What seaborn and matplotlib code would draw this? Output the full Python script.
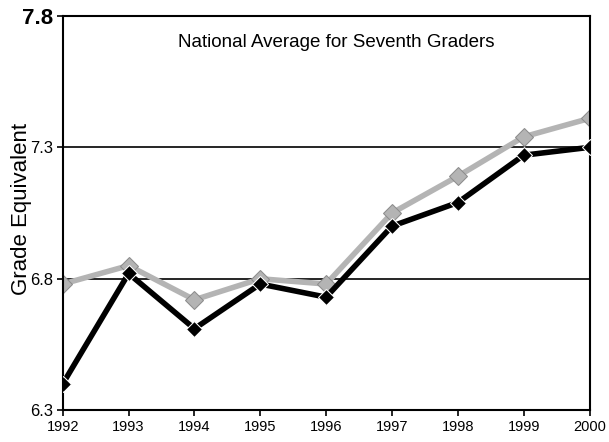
import matplotlib
matplotlib.use("Agg")
import matplotlib.pyplot as plt
import seaborn as sns
import pandas as pd

years = [1992, 1993, 1994, 1995, 1996, 1997, 1998, 1999, 2000]
local_scores = [6.40, 6.82, 6.61, 6.78, 6.73, 7.00, 7.09, 7.27, 7.30]
national_scores = [6.78, 6.85, 6.72, 6.80, 6.78, 7.05, 7.19, 7.34, 7.41]
y_ticks = [6.3, 6.8, 7.3, 7.8]

df = pd.DataFrame({"year": years, "local": local_scores, "national": national_scores})

sns.set_style("white")
plt.rcParams["font.family"] = ["Liberation Sans", "DejaVu Sans"]
plt.rcParams.update({"text.color": "black", "axes.labelcolor": "black",
                     "xtick.color": "black", "ytick.color": "black"})

fig = plt.figure(figsize=(6.09, 4.42), dpi=100)
ax = fig.add_axes([0.103, 0.072, 0.865, 0.892])

# reference lines
for v in [6.8, 7.3]:
    ax.axhline(v, color="black", lw=1.2, zorder=1)

sns.lineplot(data=df, x="year", y="national", ax=ax, color="#b4b4b4", lw=4,
             marker="D", markersize=9, markeredgecolor="#8c8c8c", zorder=2)
sns.lineplot(data=df, x="year", y="local", ax=ax, color="black", lw=4,
             marker="D", markersize=8.5, zorder=3)

ax.set_xlim(1992, 2000)
ax.set_ylim(6.3, 7.8)
ax.set_xticks(years)
ax.set_xticklabels([str(y) for y in years], fontsize=10.5)
ax.set_yticks(y_ticks)
labels = ax.set_yticklabels([f"{v:.1f}" for v in y_ticks], fontsize=12)
labels[-1].set_fontsize(16)
labels[-1].set_fontweight("bold")
ax.tick_params(axis="both", length=4, width=1.2, direction="out", color="black", pad=3)
ax.tick_params(axis="x", bottom=True)
ax.tick_params(axis="y", left=True)

ax.set_xlabel("")
ax.set_ylabel("Grade Equivalent", fontsize=16)
ax.yaxis.set_label_coords(-0.058, 0.51)

for s in ax.spines.values():
    s.set_color("black")
    s.set_linewidth(1.5)

ax.text(0.52, 0.955, "National Average for Seventh Graders", transform=ax.transAxes,
        ha="center", va="top", fontsize=13.5)

fig.savefig("out.png", dpi=100)
